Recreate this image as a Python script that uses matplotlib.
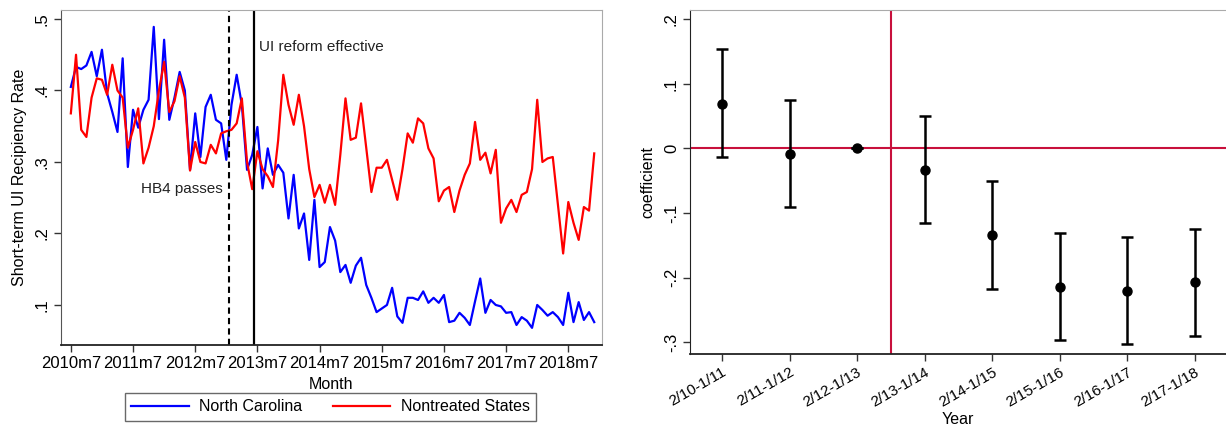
import numpy as np
import matplotlib
matplotlib.use("Agg")
import matplotlib.pyplot as plt

plt.rcParams["font.family"] = ["Liberation Sans", "DejaVu Sans"]

# monthly recipiency rates, 2010m7 .. 2018m12
nc_rate = [0.405, 0.433, 0.430, 0.435, 0.454, 0.420, 0.457, 0.396, 0.370, 0.342,
           0.445, 0.293, 0.373, 0.348, 0.373, 0.387, 0.489, 0.360, 0.471, 0.359,
           0.390, 0.426, 0.400, 0.289, 0.368, 0.307, 0.377, 0.394, 0.359, 0.354,
           0.303, 0.380, 0.422, 0.380, 0.289, 0.310, 0.349, 0.263, 0.319, 0.282,
           0.296, 0.285, 0.221, 0.282, 0.207, 0.228, 0.163, 0.247, 0.153, 0.160,
           0.209, 0.190, 0.146, 0.156, 0.131, 0.155, 0.166, 0.128, 0.110, 0.090,
           0.095, 0.100, 0.124, 0.084, 0.075, 0.110, 0.110, 0.107, 0.119, 0.103,
           0.110, 0.103, 0.114, 0.076, 0.078, 0.089, 0.082, 0.072, 0.105, 0.137,
           0.089, 0.107, 0.100, 0.098, 0.089, 0.090, 0.072, 0.083, 0.078, 0.068,
           0.100, 0.093, 0.085, 0.090, 0.083, 0.072, 0.117, 0.076, 0.104, 0.079,
           0.090, 0.076]
other_rate = [0.368, 0.450, 0.345, 0.335, 0.390, 0.417, 0.415, 0.394, 0.436, 0.400,
              0.390, 0.320, 0.345, 0.375, 0.298, 0.320, 0.350, 0.400, 0.440, 0.370,
              0.385, 0.420, 0.390, 0.288, 0.328, 0.300, 0.298, 0.324, 0.312, 0.340,
              0.343, 0.345, 0.354, 0.389, 0.300, 0.262, 0.315, 0.290, 0.280, 0.265,
              0.330, 0.422, 0.380, 0.352, 0.394, 0.350, 0.290, 0.251, 0.268, 0.243,
              0.268, 0.240, 0.310, 0.389, 0.331, 0.334, 0.382, 0.320, 0.258, 0.292,
              0.292, 0.303, 0.275, 0.247, 0.290, 0.340, 0.327, 0.361, 0.354, 0.319,
              0.305, 0.245, 0.260, 0.265, 0.230, 0.260, 0.282, 0.298, 0.356, 0.303,
              0.313, 0.284, 0.317, 0.215, 0.235, 0.247, 0.230, 0.254, 0.258, 0.290,
              0.387, 0.300, 0.305, 0.307, 0.240, 0.172, 0.244, 0.215, 0.191, 0.237,
              0.232, 0.312]
month_labels = ["2010m7", "2011m7", "2012m7", "2013m7", "2014m7",
                "2015m7", "2016m7", "2017m7", "2018m7"]
hb4_month = 30.6      # months after 2010m7
reform_month = 35.4

# event study coefficients
periods = ["2/10-1/11", "2/11-1/12", "2/12-1/13", "2/13-1/14", "2/14-1/15",
           "2/15-1/16", "2/16-1/17", "2/17-1/18"]
coef = [0.069, -0.008, 0.0, -0.033, -0.134, -0.214, -0.220, -0.207]
ci_low = [-0.013, -0.091, 0.0, -0.116, -0.217, -0.296, -0.303, -0.290]
ci_high = [0.153, 0.075, 0.0, 0.050, -0.051, -0.131, -0.137, -0.124]

fig = plt.figure(figsize=(12.26, 4.26), dpi=100)

# ---- left panel
ax1 = fig.add_axes([61 / 1226, 81 / 426, 541 / 1226, 335 / 426])
months = np.arange(len(nc_rate))
ax1.plot(months, nc_rate, color="#0000ff", lw=1.6, label="North Carolina")
ax1.plot(months, other_rate, color="#ff0000", lw=1.6, label="Nontreated States")
ax1.axvline(hb4_month, color="black", lw=1.5, ls=(0, (3, 2)))
ax1.axvline(reform_month, color="black", lw=1.6)
ax1.text(hb4_month - 1.2, 0.262, "HB4 passes", ha="right", va="center",
         fontsize=11, color="#222222")
ax1.text(reform_month + 1.0, 0.461, "UI reform effective", ha="left", va="center",
         fontsize=11, color="#222222")

ax1.set_xlim(-1.9, 102.5)
ax1.set_ylim(0.044, 0.5126)
ax1.set_xticks(np.arange(len(month_labels)) * 12)
ax1.set_xticklabels(month_labels, fontsize=12)
ax1.set_yticks([0.1, 0.2, 0.3, 0.4, 0.5])
ax1.set_yticklabels([".1", ".2", ".3", ".4", ".5"], rotation=90, va="center", fontsize=12)
ax1.set_xlabel("Month", fontsize=11.5, labelpad=4)
ax1.set_ylabel("Short-term UI Recipiency Rate", fontsize=11.5, labelpad=6)
ax1.tick_params(direction="out", length=5, width=1, color="#333333", pad=3)
for s in ["top", "right"]:
    ax1.spines[s].set_color("#aaaaaa")
ax1.spines["left"].set_color("#555555")
ax1.spines["bottom"].set_color("#222222")
ax1.spines["bottom"].set_linewidth(1.3)

leg = ax1.legend(loc="center", bbox_to_anchor=(0.498, -0.185), ncol=2,
                 frameon=True, fancybox=False, fontsize=11.5, handlelength=3.6,
                 handletextpad=0.65, columnspacing=1.9, borderpad=0.4)
leg.get_frame().set_edgecolor("#444444")
leg.get_frame().set_linewidth(1.0)

# ---- right panel
ax2 = fig.add_axes([690 / 1226, 72 / 426, 536 / 1226, 344 / 426])
xpos = np.arange(1, len(periods) + 1)
ax2.axhline(0, color="#c8103c", lw=1.5, zorder=1)
ax2.axvline(3.5, color="#c8103c", lw=1.5, zorder=1)
err = [np.array(coef) - np.array(ci_low), np.array(ci_high) - np.array(coef)]
ax2.errorbar(xpos, coef, yerr=err, fmt="o", color="black", ms=6.5, lw=1.8,
             capsize=4, capthick=1.8, zorder=3)

ax2.set_xlim(0.527, 8.46)
ax2.set_ylim(-0.318, 0.214)
ax2.set_xticks(xpos)
ax2.set_xticklabels(periods, rotation=30, ha="right", rotation_mode="anchor", fontsize=11)
ax2.set_yticks([-0.3, -0.2, -0.1, 0.0, 0.1, 0.2])
ax2.set_yticklabels(["-.3", "-.2", "-.1", "0", ".1", ".2"], rotation=90, va="center",
                    fontsize=12)
ax2.set_xlabel("Year", fontsize=11.5, labelpad=2)
ax2.set_ylabel("coefficient", fontsize=11.5, labelpad=6)
ax2.tick_params(direction="out", length=5, width=1, color="#333333", pad=3)
ax2.spines["top"].set_color("#aaaaaa")
ax2.spines["right"].set_visible(False)
ax2.spines["left"].set_color("#222222")
ax2.spines["bottom"].set_color("#222222")
ax2.spines["bottom"].set_linewidth(1.3)

fig.savefig("out.png", dpi=100)
